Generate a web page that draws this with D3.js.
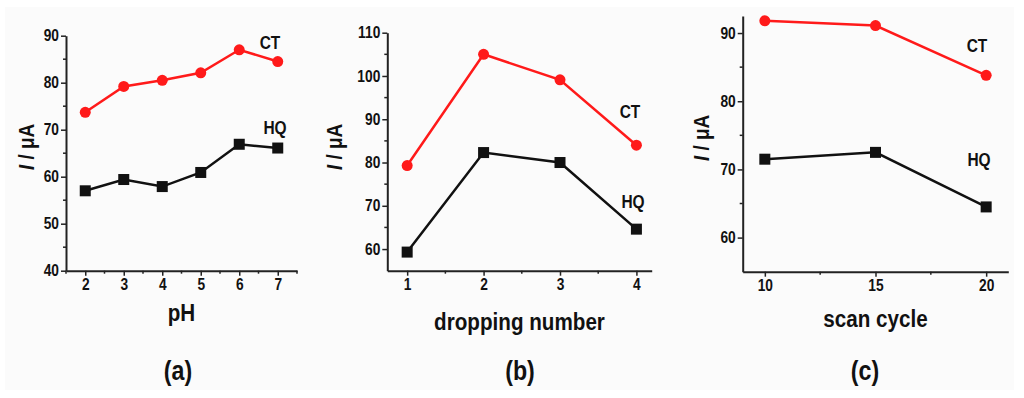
<!DOCTYPE html>
<html><head><meta charset="utf-8">
<script src="https://cdn.jsdelivr.net/npm/d3@7"></script>
<style>
html,body{margin:0;padding:0;background:#fff;}
svg text{font-family:"Liberation Sans Narrow","Arial Narrow","Liberation Sans",Arial,sans-serif;font-weight:bold;fill:#111;}
</style></head>
<body><svg id="c" width="1024" height="398"></svg>
<script>
// ---- data ----
const phX = [2, 3, 4, 5, 6, 7];
const phCT = [73.7, 79.2, 80.5, 82.1, 87.0, 84.5];
const phHQ = [57.0, 59.4, 57.9, 60.9, 66.9, 66.1];

const dropX = [1, 2, 3, 4];
const dropCT = [79.3, 105.0, 99.1, 84.0];
const dropHQ = [59.3, 82.3, 80.0, 64.6];

const scanX = [10, 15, 20];
const scanCT = [91.8, 91.1, 83.8];
const scanHQ = [71.5, 72.5, 64.5];

const phXTicks = [2, 3, 4, 5, 6, 7];
const phYTicks = [40, 50, 60, 70, 80, 90];
const dropXTicks = [1, 2, 3, 4];
const dropYTicks = [60, 70, 80, 90, 100, 110];
const scanXTicks = [10, 15, 20];
const scanYTicks = [60, 70, 80, 90];

const xTitles = ["pH", "dropping number", "scan cycle"];
const panelLabels = ["(a)", "(b)", "(c)"];
const seriesNames = ["CT", "HQ"];

// ---- layout ----
const SX = 0.86; // condensed look
const panels = [
  {x: phX, ct: phCT, hq: phHQ, xt: phXTicks, yt: phYTicks,
   xd: [1.5, 7.5], yd: [40, 90], xr: [66, 297], yr: [270.7, 35.7],
   xmin: [1.5,2.5,3.5,4.5,5.5,6.5,7.5], ymin: [45,55,65,75,85],
   ctL: [270, 49], hqL: [275, 134], yL: [25, 147], xTY: 321, pL: [178, 380]},
  {x: dropX, ct: dropCT, hq: dropHQ, xt: dropXTicks, yt: dropYTicks,
   xd: [0.74, 4.2], yd: [55, 110], xr: [387.3, 651.7], yr: [270.7, 32.7],
   xmin: [1.5,2.5,3.5], ymin: [65,75,85,95,105],
   ctL: [630, 118], hqL: [633, 208], yL: [333, 147], xTY: 330, pL: [520, 380]},
  {x: scanX, ct: scanCT, hq: scanHQ, xt: scanXTicks, yt: scanYTicks,
   xd: [9, 21], yd: [55, 92.5], xr: [742.7, 1008.3], yr: [271.7, 16],
   xmin: [12.5,17.5], ymin: [65,75,85],
   ctL: [977, 52], hqL: [979, 166], yL: [700, 138], xTY: 327, pL: [865, 380]}
];

const svg = d3.select("#c");
svg.append("rect").attr("x",5).attr("y",7).attr("width",1009).attr("height",383).attr("fill","#fbfbfb");

function ntext(g, x, y, size, txt, rot) {
  return g.append("text")
    .attr("transform", `translate(${x},${y})` + (rot ? ` rotate(${rot})` : "") + ` scale(${SX},1)`)
    .attr("text-anchor", "middle").attr("font-size", size).text(txt);
}

panels.forEach((p, i) => {
  const x = d3.scaleLinear().domain(p.xd).range(p.xr);
  const y = d3.scaleLinear().domain(p.yd).range(p.yr);
  const g = svg.append("g");

  // axes
  const xa = g.append("g").attr("transform", `translate(0,${p.yr[0]})`)
    .call(d3.axisBottom(x).tickValues(p.xt).tickSize(5).tickPadding(3).tickSizeOuter(0).tickFormat(d3.format("d")));
  const ya = g.append("g").attr("transform", `translate(${p.xr[0]},0)`)
    .call(d3.axisLeft(y).tickValues(p.yt).tickSize(5).tickPadding(1).tickSizeOuter(0).tickFormat(d3.format("d")));
  [xa, ya].forEach(a => {
    a.select(".domain").attr("stroke", "#222").attr("stroke-width", 2);
    a.selectAll(".tick line").attr("stroke", "#222").attr("stroke-width", 1.5);
    a.selectAll("text").attr("font-size", 16).attr("fill", "#111")
      .style("font-family", '"Liberation Sans Narrow","Arial Narrow","Liberation Sans",Arial,sans-serif').style("font-weight","bold");
  });
  xa.selectAll(".tick text").attr("transform", `scale(${SX},1)`);
  ya.selectAll(".tick text").attr("x", -7 / SX).attr("transform", `scale(${SX},1)`);

  // minor ticks
  g.append("g").selectAll("line").data(p.xmin).join("line")
    .attr("x1", d => x(d)).attr("x2", d => x(d))
    .attr("y1", p.yr[0]).attr("y2", p.yr[0] + 3).attr("stroke", "#222").attr("stroke-width", 1.5);
  g.append("g").selectAll("line").data(p.ymin).join("line")
    .attr("y1", d => y(d)).attr("y2", d => y(d))
    .attr("x1", p.xr[0]).attr("x2", p.xr[0] - 3).attr("stroke", "#222").attr("stroke-width", 1.5);

  // series
  const line = d3.line().x((d, k) => x(p.x[k])).y(d => y(d));
  g.append("path").datum(p.ct).attr("d", line).attr("fill", "none").attr("stroke", "#ff1a1a").attr("stroke-width", 2.5);
  g.append("path").datum(p.hq).attr("d", line).attr("fill", "none").attr("stroke", "#111").attr("stroke-width", 2.5);
  g.append("g").selectAll("circle").data(p.ct).join("circle")
    .attr("cx", (d, k) => x(p.x[k])).attr("cy", d => y(d)).attr("r", 5.5).attr("fill", "#ff1a1a");
  g.append("g").selectAll("rect").data(p.hq).join("rect")
    .attr("x", (d, k) => x(p.x[k]) - 5.5).attr("y", d => y(d) - 5.5)
    .attr("width", 11).attr("height", 11).attr("fill", "#111");

  // series labels
  ntext(g, p.ctL[0], p.ctL[1], 18, seriesNames[0]);
  ntext(g, p.hqL[0], p.hqL[1], 18, seriesNames[1]);

  // axis titles
  const yl = ntext(g, p.yL[0], p.yL[1], 22, null, -90).attr("dominant-baseline", "central");
  yl.append("tspan").attr("font-style", "italic").text("I");
  yl.append("tspan").text(" / μA");
  ntext(g, (p.xr[0] + p.xr[1]) / 2, p.xTY, 24, xTitles[i]);
  ntext(g, p.pL[0], p.pL[1], 27, panelLabels[i]);
});
</script></body></html>
